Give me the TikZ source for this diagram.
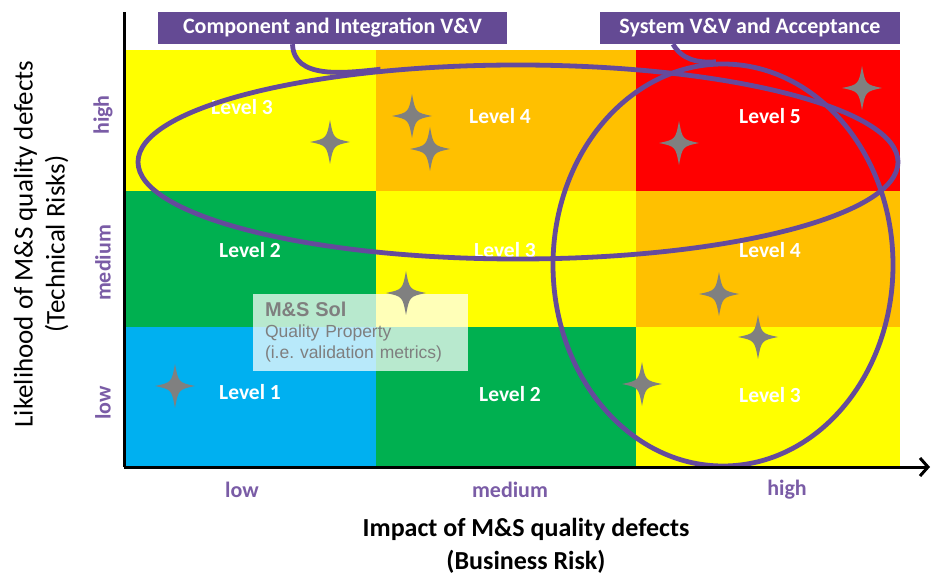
\documentclass[tikz,border=0pt]{standalone}
\usepackage{fontspec}
\setmainfont{Carlito}
\newfontfamily\solfont{Liberation Sans}
\usepackage{xcolor}
\usepackage{tikz}
\usetikzlibrary{shapes.geometric, arrows.meta}
\definecolor{cyellow}{HTML}{FFFF00}
\definecolor{corange}{HTML}{FFC000}
\definecolor{cred}{HTML}{FF0000}
\definecolor{cgreen}{HTML}{00B050}
\definecolor{cblue}{HTML}{00B0F0}
\definecolor{boxpurple}{HTML}{644A94}
\definecolor{linepurple}{HTML}{654A9C}
\definecolor{txtpurple}{HTML}{7A5CA6}
\definecolor{stargray}{HTML}{808080}
\definecolor{solgray}{HTML}{7F7F7F}
\tikzstyle{axisline} = [line width=3pt, black]
\tikzstyle{cell} = [rectangle, inner sep=0pt, draw=none]
\tikzstyle{lvl} = [text=white, font=\fontsize{21.5}{25}\selectfont\bfseries]
\tikzstyle{vvtag} = [rectangle, fill=boxpurple, text=white, inner sep=0pt, font=\fontsize{22}{26}\selectfont\bfseries]
\tikzstyle{ringshape} = [ellipse, draw=linepurple, line width=4.8pt, inner sep=0pt]
\tikzstyle{calltail} = [draw=linepurple, line width=4.8pt]
\tikzstyle{sparkle} = [fill=stargray]
\tikzstyle{axlabel} = [text=txtpurple, font=\fontsize{22}{26}\selectfont\bfseries]
\tikzstyle{solbox} = [rectangle, fill=white, fill opacity=0.72, text opacity=1, text=solgray, minimum width=215, minimum height=77, text width=191, inner xsep=12, align=left, font=\solfont\fontsize{17.5}{21}\selectfont]

\begin{document}
\begin{tikzpicture}[x=1pt,y=1pt]
	\clip (0,0) rectangle (931,576);

	% Cells:
	% one node per cell, named by row and column (h/m/l)
	\foreach \nm/\cx/\cy/\w/\h/\clr in {hl/251/455.5/250/141/cyellow, hm/506/455.5/260/141/corange, hh/768/455.5/264/141/cred,
		ml/251/317/250/136/cgreen, mm/506/317/260/136/cyellow, mh/768/317/264/136/corange,
		ll/251/179.5/250/139/cblue, lm/506/179.5/260/139/cgreen, lh/768/179.5/264/139/cyellow}
	{
		\node[cell, fill=\clr, minimum width=\w, minimum height=\h] (c\nm) at (\cx,\cy) {};
	}

	% Levels:
	\foreach \nm/\lx/\ly/\lv in {hl/242/469/3, hm/500/460/4, hh/770/460/5, ml/250/326/2, mm/505/326/3, mh/770/326/4, ll/250/184/1, lm/510/182/2, lh/770/181/3}
	{
		\node[lvl] (t\nm) at (\lx,\ly) {Level \lv};
	}

	% Quality property box:
	\node[solbox] (sol) at (360.5,243.5) {{\bfseries\fontsize{20}{22}\selectfont M\&S Sol}\\Quality Property\\(i.e.\ validation metrics)};

	% Stars:
	\foreach \sx/\sy in {330/434, 412/460, 430/427, 679/433, 862/488, 406/283, 719/282, 758/239, 642/192, 175/190}
	{
		\fill[sparkle, shift={(\sx,\sy)}] (0,22) .. controls (3.5,3.5) .. (20,0) .. controls (3.5,-3.5) .. (0,-22) .. controls (-3.5,-3.5) .. (-20,0) .. controls (-3.5,3.5) .. cycle;
	}

	% Callouts:
	% ellipses with a tail up to their tag
	\node[ringshape, minimum width=760, minimum height=194] (compEll) at (518,414) {};
	\node[ringshape, minimum width=340, minimum height=402] (sysEll) at (723,311) {};
	\node[vvtag, minimum width=349, minimum height=32] (compTag) at (332.5,548) {Component and Integration V\&V};
	\node[vvtag, minimum width=300, minimum height=32] (sysTag) at (750,548) {System V\&V and Acceptance};
	\draw[calltail] ([xshift=-40]compTag.south) to[out=-88,in=186] (compEll.146);
	\draw[calltail] ([xshift=-77]sysTag.south) to[out=-60,in=184] (sysEll.92);

	% Axes:
	\coordinate (origin) at (124,109);
	\coordinate (ytop) at (124,564);
	\coordinate (xend) at (930,109);
	\draw[axisline] (origin) -- (ytop);
	\draw[axisline, -{Straight Barb[length=8pt,width=18pt]}] (origin) -- (xend);

	% Axes labels:
	\node[axlabel] (xlow) at (242,86) {low};
	\node[axlabel] (xmed) at (510,86) {medium};
	\node[axlabel] (xhigh) at (787,86) {high};
	\node[axlabel, rotate=90] (ylow) at (103,173) {low};
	\node[axlabel, rotate=90] (ymed) at (103,313) {medium};
	\node[axlabel, rotate=90] (yhigh) at (103,461) {high};

	\node[font=\fontsize{26}{33}\selectfont\bfseries, align=center] (xtitle) at (526,30) {Impact of M\&S quality defects\\(Business Risk)};
	\node[font=\fontsize{27}{32}\selectfont, align=center, rotate=90] (ytitle) at (41,332) {Likelihood of M\&S quality defects\\(Technical Risks)};
\end{tikzpicture}
\end{document}
